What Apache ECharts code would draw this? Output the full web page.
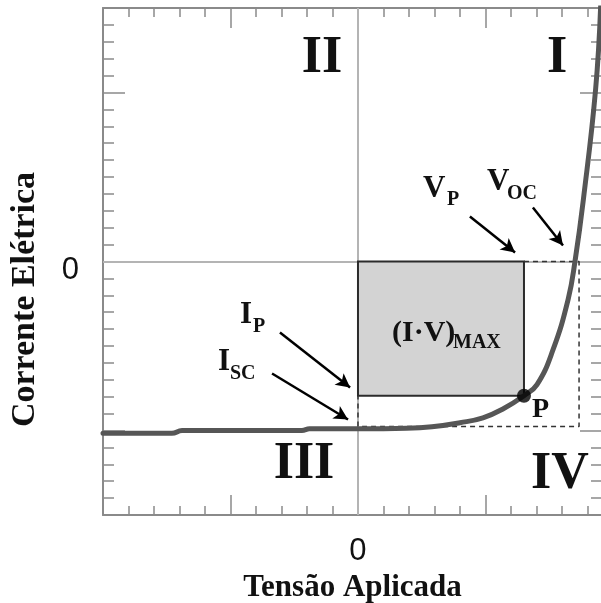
<!DOCTYPE html>
<html>
<head>
<meta charset="utf-8">
<script src="https://cdn.jsdelivr.net/npm/echarts@6/dist/echarts.min.js"></script>
<style>
  html, body { margin: 0; padding: 0; background: #fff; }
  #chart { width: 601px; height: 603px; }
</style>
</head>
<body>
<div id="chart"></div>
<script>
// I–V characteristic of a solar cell (arbitrary units)
const voltage = [-10, -7.3, -6.9, -2.2, -1.9, 0, 1.9, 2.9, 4.0, 4.9, 5.7, 6.51, 7.02, 7.65, 8.24, 8.51, 8.84, 9.32, 9.52];
const current = [-10.17, -10.17, -10.0, -10.0, -9.9, -9.9, -9.87, -9.78, -9.54, -9.25, -8.71, -7.94, -7.29, -5.22, -2.25, 0, 3.67, 10.2, 15.2];

// Characteristic points
const vP = 6.51;     // voltage at maximum power
const iP = -7.94;    // current at maximum power
const vOC = 8.67;    // open-circuit voltage
const iSC = -9.76;   // short-circuit current

// Axis ranges
const xRange = [-10, 9.57];
const yRange = [-15, 15];
const xMajorTicks = [-5, 5];
const yMajorTicks = [-10, 10];

// Arrows pointing at the characteristic values: [x1, y1, x2, y2]
const arrows = [
  [4.39, 2.66, 6.16, 0.53],     // V_P
  [6.86, 3.2, 8.04, 0.95],      // V_OC
  [-3.06, -4.2, -0.31, -7.46],  // I_P
  [-3.37, -6.63, -0.39, -9.35]  // I_SC
];

const curvePoints = voltage.map((v, i) => [v, current[i]]);
const guidePath = [[vP, 0], [vOC, 0], [vOC, iSC], [0, iSC], [0, iP]];

const frameColor = '#8a8a8a';
const serif = '"Liberation Serif", "DejaVu Serif", serif';
const sans = '"Liberation Sans", Arial, sans-serif';

function xAxisDef(pos, major) {
  return {
    type: 'value', position: pos, min: xRange[0], max: xRange[1],
    interval: major ? 5 : 1,
    axisLine: { show: !major, onZero: false, lineStyle: { color: frameColor, width: 2 } },
    axisTick: Object.assign({ show: true, inside: true, length: major ? 20 : 9,
      lineStyle: { color: frameColor, width: 1.5 } }, major ? { customValues: xMajorTicks } : {}),
    axisLabel: (pos === 'bottom' && !major) ? {
      show: true, margin: 21, color: '#111', fontSize: 31, fontFamily: sans,
      formatter: v => (v === 0 ? '0' : '')
    } : { show: false },
    splitLine: { show: false },
    name: (pos === 'bottom' && !major) ? 'Tensão Aplicada' : '',
    nameLocation: 'middle', nameGap: 57,
    nameTextStyle: { fontFamily: serif, fontWeight: 'bold', fontSize: 31, color: '#111' }
  };
}

function yAxisDef(pos, major) {
  return {
    type: 'value', position: pos, min: yRange[0], max: yRange[1],
    interval: major ? 5 : 1,
    // the right-hand frame edge falls just outside the drawing
    axisLine: { show: !major && pos === 'left', onZero: false, lineStyle: { color: frameColor, width: 2 } },
    axisTick: Object.assign({ show: true, inside: true, length: major ? 22 : 11,
      lineStyle: { color: frameColor, width: 1.5 } }, major ? { customValues: yMajorTicks } : {}),
    axisLabel: (pos === 'left' && !major) ? {
      show: true, margin: 24, color: '#111', fontSize: 31, fontFamily: sans,
      verticalAlign: 'top', lineHeight: 18,
      formatter: v => (v === 0 ? '0' : '')
    } : { show: false },
    splitLine: { show: false },
    name: (pos === 'left' && !major) ? 'Corrente Elétrica' : '',
    nameLocation: 'middle', nameGap: 61, nameRotate: 90,
    nameTextStyle: { fontFamily: serif, fontWeight: 'bold', fontSize: 34, color: '#111',
      padding: [0, 76, 0, 0] }
  };
}

const chart = echarts.init(document.getElementById('chart'), null, { renderer: 'canvas' });

function txt(text, x, y, size, align) {
  return {
    type: 'text', x: x, y: y, z: 100,
    style: { text: text, fill: '#111', font: 'bold ' + size + 'px ' + serif,
      align: align || 'left', verticalAlign: 'middle' }
  };
}

chart.setOption({
  animation: false,
  backgroundColor: '#fff',
  grid: { left: 103, top: 8, width: 499, height: 507, containLabel: false, outerBoundsMode: 'none' },
  xAxis: [xAxisDef('bottom', false), xAxisDef('bottom', true), xAxisDef('top', false), xAxisDef('top', true)],
  yAxis: [yAxisDef('left', false), yAxisDef('left', true), yAxisDef('right', false), yAxisDef('right', true)],
  series: [
    {
      // zero lines
      type: 'line', data: [], xAxisIndex: 0, yAxisIndex: 0, z: 1,
      markLine: {
        silent: true, symbol: 'none', label: { show: false }, z: 1,
        lineStyle: { color: '#b4b4b4', width: 2, type: 'solid' },
        data: [{ xAxis: 0 }, { yAxis: 0 }]
      }
    },
    {
      // maximum-power rectangle
      type: 'line', data: [], xAxisIndex: 0, yAxisIndex: 0, z: 2,
      markArea: {
        silent: true, z: 2,
        itemStyle: { color: '#d3d3d3', borderColor: '#2b2b2b', borderWidth: 2 },
        data: [[{ coord: [0, 0] }, { coord: [vP, iP] }]]
      }
    },
    {
      // dashed guides to V_OC and I_SC
      type: 'line', data: guidePath, xAxisIndex: 0, yAxisIndex: 0, z: 3,
      symbol: 'none', silent: true,
      lineStyle: { color: '#333', width: 1.5, type: [5, 4] }
    },
    {
      type: 'line', data: curvePoints, xAxisIndex: 0, yAxisIndex: 0, z: 5,
      symbol: 'none', smooth: 0.45, silent: true,
      lineStyle: { color: '#565656', width: 5, cap: 'round', join: 'round' }
    },
    {
      type: 'scatter', data: [[vP, iP]], xAxisIndex: 0, yAxisIndex: 0, z: 6,
      symbol: 'circle', symbolSize: 14, itemStyle: { color: '#000' }, silent: true
    },
    {
      type: 'line', data: [], xAxisIndex: 0, yAxisIndex: 0, z: 7,
      markLine: {
        silent: true, symbol: ['none', 'arrow'], symbolSize: [11, 14], z: 7,
        label: { show: false },
        lineStyle: { color: '#000', width: 2.5, type: 'solid' },
        data: arrows.map(a => [{ coord: [a[0], a[1]] }, { coord: [a[2], a[3]] }])
      }
    }
  ],
  graphic: [
    txt('II', 322, 59, 52, 'center'),
    txt('I', 557, 59, 52, 'center'),
    txt('III', 304, 465, 52, 'center'),
    txt('IV', 560, 475, 52, 'center'),
    txt('V', 423, 189, 31), txt('P', 447, 200, 20),
    txt('V', 487, 181.5, 31), txt('OC', 507, 193.5, 20),
    txt('I', 240, 315, 31), txt('P', 253, 326.5, 20),
    txt('I', 218, 361.5, 31), txt('SC', 230, 373.5, 20),
    txt('(I·V)', 392, 333, 30), txt('MAX', 453, 342.5, 20),
    txt('P', 532, 410, 28)
  ]
});
</script>
</body>
</html>
